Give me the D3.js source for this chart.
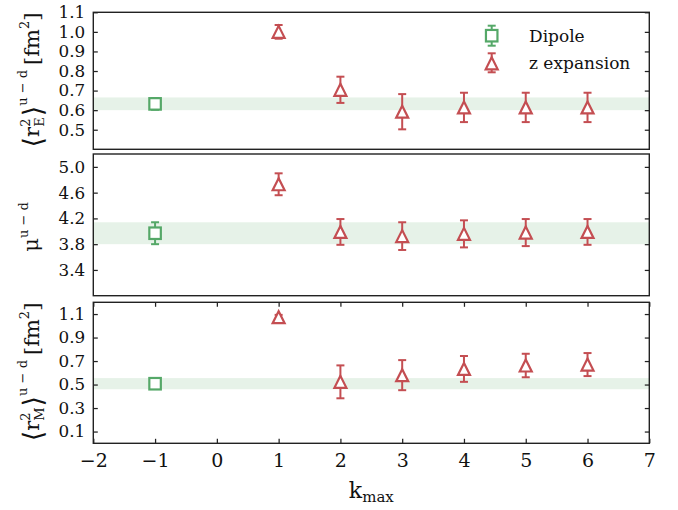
<!DOCTYPE html>
<html>
<head>
<meta charset="utf-8">
<script src="https://cdn.jsdelivr.net/npm/d3@7"></script>
<style>
  html, body { margin: 0; padding: 0; background: #fff; }
  svg { display: block; }
  text { font-family: "DejaVu Serif", serif; fill: #111; }
</style>
</head>
<body>
<svg id="chart" width="678" height="510"></svg>
<script>
// ---- data ----
const kMax = [1, 2, 3, 4, 5, 6];
const dipoleK = -1;

// <r_E^2>^{u-d} [fm^2]
const rE2ZExp = [1.00, 0.704, 0.592, 0.614, 0.614, 0.614];
const rE2ZErr = [0.035, 0.067, 0.090, 0.075, 0.075, 0.075];
const rE2Dipole = 0.632, rE2DipoleErr = 0.03;
const rE2Band = [0.600, 0.665];
const rE2Ticks = [0.5, 0.6, 0.7, 0.8, 0.9, 1.0, 1.1];

// mu^{u-d}
const muZExp = [4.73, 3.99, 3.925, 3.96, 3.98, 3.99];
const muZErr = [0.17, 0.20, 0.215, 0.21, 0.21, 0.20];
const muDipole = 3.97, muDipoleErr = 0.17;
const muBand = [3.80, 4.14];
const muTicks = [3.4, 3.8, 4.2, 4.6, 5.0];

// <r_M^2>^{u-d} [fm^2]
const rM2ZExp = [1.073, 0.523, 0.580, 0.633, 0.662, 0.670];
const rM2ZErr = [0.02, 0.140, 0.128, 0.110, 0.100, 0.098];
const rM2Dipole = 0.507, rM2DipoleErr = 0.04;
const rM2Band = [0.460, 0.555];
const rM2Ticks = [0.1, 0.3, 0.5, 0.7, 0.9, 1.1];

const xTicks = [-2, -1, 0, 1, 2, 3, 4, 5, 6, 7];

// ---- layout ----
const GREEN = "#55a868", RED = "#c44e52", FRAME = "#222";
const left = 93.3, right = 649.3;
const svg = d3.select("#chart");
const x = d3.scaleLinear().domain([-2, 7]).range([left, right]);

const panels = [
  { top: 12.3, bottom: 149.3, domain: [0.4, 1.1], ticks: rE2Ticks,
    z: rE2ZExp, zErr: rE2ZErr, dip: rE2Dipole, dipErr: rE2DipoleErr, band: rE2Band,
    xAxis: false },
  { top: 154.0, bottom: 295.7, domain: [3.0, 5.2], ticks: muTicks,
    z: muZExp, zErr: muZErr, dip: muDipole, dipErr: muDipoleErr, band: muBand,
    xAxis: false },
  { top: 302.3, bottom: 443.3, domain: [0.0, 1.2], ticks: rM2Ticks,
    z: rM2ZExp, zErr: rM2ZErr, dip: rM2Dipole, dipErr: rM2DipoleErr, band: rM2Band,
    xAxis: true }
];

function trianglePath(cx, cy, s) {
  const p = d3.path();
  p.moveTo(cx, cy - s / 2);
  p.lineTo(cx - s / 2, cy + s / 2);
  p.lineTo(cx + s / 2, cy + s / 2);
  p.closePath();
  return p.toString();
}

function errorBar(g, cx, y0, y1, color) {
  const cap = 4;
  g.append("line").attr("x1", cx).attr("x2", cx).attr("y1", y0).attr("y2", y1)
    .attr("stroke", color).attr("stroke-width", 2);
  [y0, y1].forEach(yy => g.append("line")
    .attr("x1", cx - cap).attr("x2", cx + cap).attr("y1", yy).attr("y2", yy)
    .attr("stroke", color).attr("stroke-width", 2));
}

function squareMarker(g, cx, cy) {
  const s = 11.5;
  g.append("rect").attr("x", cx - s / 2).attr("y", cy - s / 2)
    .attr("width", s).attr("height", s)
    .attr("fill", "#fff").attr("stroke", GREEN).attr("stroke-width", 2.2);
}

function triMarker(g, cx, cy) {
  g.append("path").attr("d", trianglePath(cx, cy, 12))
    .attr("fill", "#fff").attr("stroke", RED).attr("stroke-width", 2.2)
    .attr("stroke-linejoin", "miter");
}

// lays out a run of text pieces horizontally (scripts may be stacked) and rotates it
function mathLabel(parent, pieces, cx, cy, rotate) {
  const g = parent.append("g");
  let pos = 0;
  pieces.forEach(pc => {
    const items = pc.stack ? pc.stack : [pc];
    let w = 0;
    items.forEach(it => {
      const t = g.append("text").attr("x", pos).attr("y", it.dy || 0)
        .style("font-size", it.size + "px")
        .style("font-family", it.font || "DejaVu Serif")
        .text(it.t);
      w = Math.max(w, t.node().getComputedTextLength());
    });
    pos += w + (pc.gap || 0);
  });
  const tx = rotate ? `translate(${cx},${cy + pos / 2}) rotate(-90)` : `translate(${cx - pos / 2},${cy})`;
  g.attr("transform", tx);
  return g;
}

panels.forEach(P => {
  const y = d3.scaleLinear().domain(P.domain).range([P.bottom, P.top]);
  const g = svg.append("g");

  // shaded dipole band
  g.append("rect").attr("x", left).attr("width", right - left)
    .attr("y", y(P.band[1])).attr("height", y(P.band[0]) - y(P.band[1]))
    .attr("fill", GREEN).attr("fill-opacity", 0.15);

  // axes with inward ticks
  const yl = g.append("g").attr("transform", `translate(${left},0)`)
    .call(d3.axisLeft(y).tickValues(P.ticks).tickFormat(d3.format(".1f"))
      .tickSizeInner(-4.5).tickSizeOuter(0).tickPadding(8));
  const yr = g.append("g").attr("transform", `translate(${right},0)`)
    .call(d3.axisRight(y).tickValues(P.ticks).tickFormat("")
      .tickSizeInner(-4.5).tickSizeOuter(0));
  [yl, yr].forEach(a => a.selectAll(".tick text").style("font-size", "16.8px"));
  const axes = [yl, yr];
  if (P.xAxis) {
    const xb = g.append("g").attr("transform", `translate(0,${P.bottom})`)
      .call(d3.axisBottom(x).tickValues(xTicks).tickFormat(d3.format("d"))
        .tickSizeInner(-4.5).tickSizeOuter(0).tickPadding(10));
    xb.selectAll(".tick text").style("font-size", "19px");
    axes.push(xb);
    axes.push(g.append("g").attr("transform", `translate(0,${P.top})`)
      .call(d3.axisTop(x).tickValues(xTicks).tickFormat("")
        .tickSizeInner(-4.5).tickSizeOuter(0)));
  }
  axes.forEach(a => {
    a.select(".domain").remove();
    a.selectAll(".tick line").attr("stroke", FRAME).attr("stroke-width", 1.25);
    a.selectAll(".tick text").style("font-family", "DejaVu Serif").attr("fill", "#111");
  });

  // frame
  g.append("rect").attr("x", left).attr("y", P.top)
    .attr("width", right - left).attr("height", P.bottom - P.top)
    .attr("fill", "none").attr("stroke", FRAME).attr("stroke-width", 1.4);

  // dipole point
  errorBar(g, x(dipoleK), y(P.dip - P.dipErr), y(P.dip + P.dipErr), GREEN);
  squareMarker(g, x(dipoleK), y(P.dip));

  // z-expansion points
  kMax.forEach((k, i) => {
    errorBar(g, x(k), y(P.z[i] - P.zErr[i]), y(P.z[i] + P.zErr[i]), RED);
    triMarker(g, x(k), y(P.z[i]));
  });
});

// y-axis labels
const S = 21, s = 13;
mathLabel(svg, [
  { t: "⟨", size: 27, font: "DejaVu Sans", dy: 3 },
  { t: "r", size: S },
  { stack: [{ t: "2", size: s, dy: -9 }, { t: "E", size: s, dy: 5 }], gap: 1 },
  { t: "⟩", size: 27, font: "DejaVu Sans", dy: 3 },
  { t: "u − d", size: s, dy: -12, gap: 5 },
  { t: "[fm", size: S },
  { t: "2", size: s, dy: -10 },
  { t: "]", size: S }
], 39, 80, true);

mathLabel(svg, [
  { t: "μ", size: S },
  { t: "u − d", size: s, dy: -10 }
], 38, 227, true);

mathLabel(svg, [
  { t: "⟨", size: 27, font: "DejaVu Sans", dy: 3 },
  { t: "r", size: S },
  { stack: [{ t: "2", size: s, dy: -9 }, { t: "M", size: s, dy: 5 }], gap: 1 },
  { t: "⟩", size: 27, font: "DejaVu Sans", dy: 3 },
  { t: "u − d", size: s, dy: -12, gap: 5 },
  { t: "[fm", size: S },
  { t: "2", size: s, dy: -10 },
  { t: "]", size: S }
], 39, 372, true);

// x-axis label
mathLabel(svg, [
  { t: "k", size: 22 },
  { t: "max", size: 15, dy: 4 }
], (left + right) / 2, 498, false);

// legend
const leg = svg.append("g");
const lx = 491.7;
errorBar(leg, lx, 25.7, 45.7, GREEN);
squareMarker(leg, lx, 35.7);
leg.append("text").attr("x", 529).attr("y", 42).style("font-size", "17px").text("Dipole");
errorBar(leg, lx, 53.3, 72.3, RED);
triMarker(leg, lx, 63.3);
leg.append("text").attr("x", 529).attr("y", 69).style("font-size", "17px").text("z expansion");
</script>
</body>
</html>
